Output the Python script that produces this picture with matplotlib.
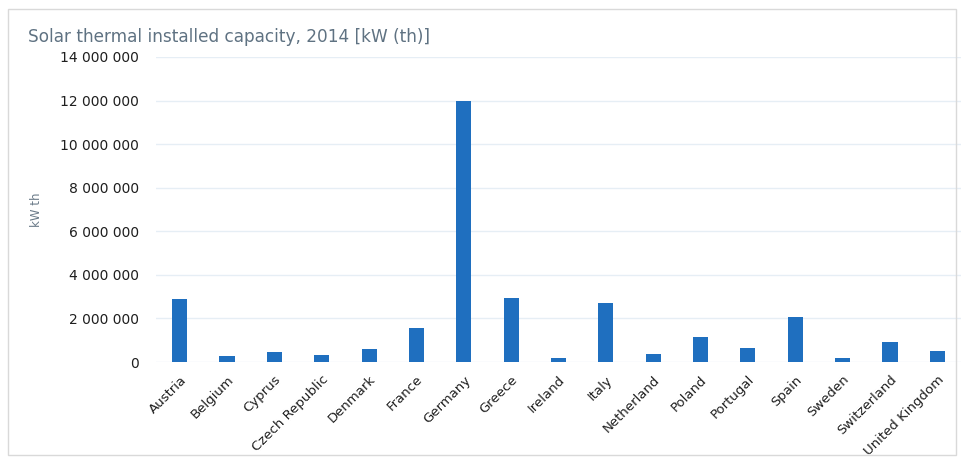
import matplotlib
matplotlib.use("Agg")
import matplotlib.pyplot as plt
from matplotlib.patches import Rectangle

countries = ["Austria", "Belgium", "Cyprus", "Czech Republic", "Denmark", "France",
             "Germany", "Greece", "Ireland", "Italy", "Netherland", "Poland",
             "Portugal", "Spain", "Sweden", "Switzerland", "United Kingdom"]
capacity_kwth = [2900000, 290000, 450000, 320000, 600000, 1560000,
                 12000000, 2960000, 200000, 2700000, 350000, 1160000,
                 630000, 2060000, 200000, 920000, 500000]
y_ticks = [0, 2000000, 4000000, 6000000, 8000000, 10000000, 12000000, 14000000]
y_tick_labels = ["0", "2 000 000", "4 000 000", "6 000 000", "8 000 000",
                 "10 000 000", "12 000 000", "14 000 000"]

plt.rcParams['font.family'] = ['DejaVu Sans']

W, H = 964, 457
fig = plt.figure(figsize=(W / 100, H / 100), dpi=100)
fig.patch.set_facecolor("white")

# outer frame
fig.add_artist(Rectangle((8 / W, 2 / H), 948 / W, 446 / H, transform=fig.transFigure,
                         fill=False, edgecolor="#d9d9d9", linewidth=1))

left, right = 156, 961
top, bottom = 57, 362
ax = fig.add_axes([left / W, 1 - bottom / H, (right - left) / W, (bottom - top) / H])

x = list(range(len(countries)))
ax.bar(x, capacity_kwth, width=0.32, color="#1f6fbf", zorder=3)

ax.set_ylim(0, 14000000)
ax.set_xlim(-0.5, len(countries) - 0.5)
ax.set_yticks(y_ticks)
ax.set_yticklabels(y_tick_labels, fontsize=10, color="#1f1f1f")
ax.set_xticks(x)
ax.set_xticklabels(countries, rotation=45, ha="right", rotation_mode="anchor",
                   fontsize=9.5, color="#1f1f1f")
ax.tick_params(axis="y", length=0, pad=12)
ax.tick_params(axis="x", length=0, pad=8)
ax.grid(axis="y", color="#e6eef5", linewidth=1, zorder=0)
for s in ax.spines.values():
    s.set_visible(False)

ax.set_ylabel("kW th", fontsize=8.5, color="#6a7a88")
ax.yaxis.set_label_coords(-0.14, 0.5)

fig.text(28 / W, 1 - 37 / H, "Solar thermal installed capacity, 2014 [kW (th)]",
         fontsize=12.2, color="#5f7282", va="center", ha="left")

fig.savefig("out.png", dpi=100)
